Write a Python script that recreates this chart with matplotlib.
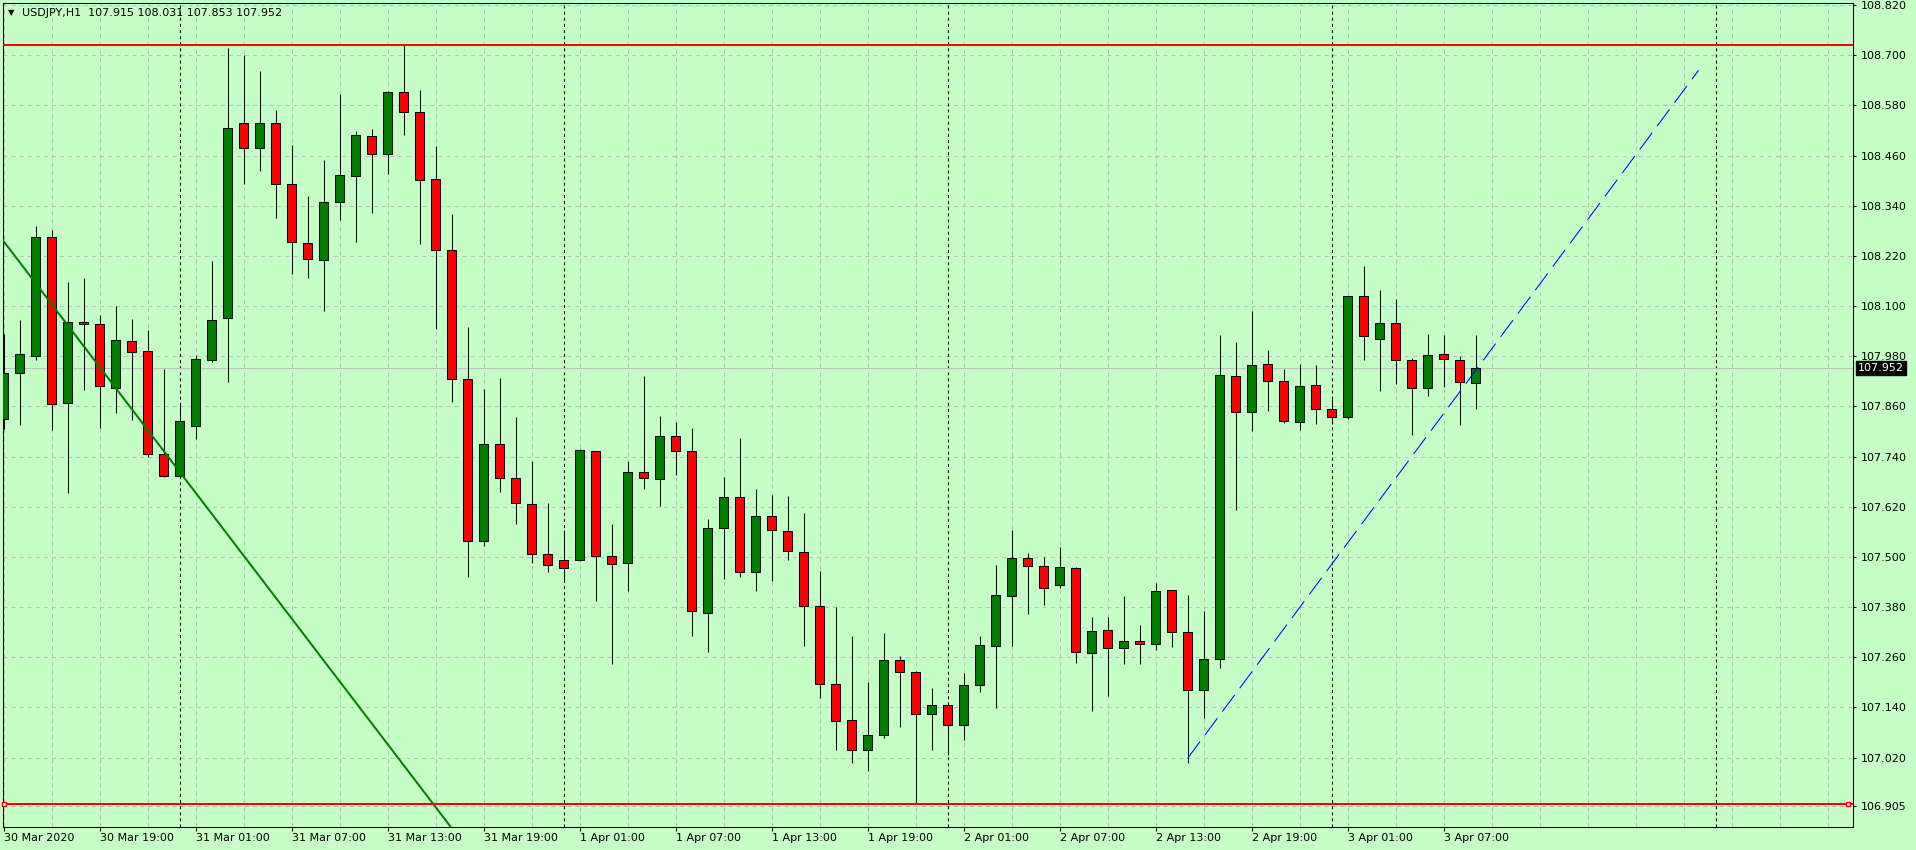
import matplotlib
matplotlib.use("Agg")
import matplotlib.pyplot as plt
from matplotlib.ticker import FixedLocator, MultipleLocator
import numpy as np
import pandas as pd

# USDJPY H1 candles, first bar 30 Mar 2020 13:00
opens = [107.831, 107.939, 107.981, 108.264, 107.867, 108.061, 108.056, 107.905, 108.016, 107.992,
         107.745, 107.694, 107.814, 107.970, 108.071, 108.537, 108.477, 108.537, 108.391, 108.250,
         108.209, 108.350, 108.410, 108.506, 108.463, 108.611, 108.563, 108.403, 108.233, 107.925,
         107.537, 107.769, 107.688, 107.626, 107.506, 107.492, 107.492, 107.753, 107.501, 107.485,
         107.702, 107.686, 107.788, 107.753, 107.367, 107.568, 107.643, 107.465, 107.599, 107.561,
         107.511, 107.382, 107.195, 107.109, 107.037, 107.073, 107.253, 107.224, 107.124, 107.145,
         107.097, 107.193, 107.286, 107.406, 107.497, 107.479, 107.434, 107.473, 107.269, 107.324,
         107.281, 107.298, 107.291, 107.420, 107.320, 107.181, 107.255, 107.932, 107.846, 107.961,
         107.920, 107.822, 107.910, 107.853, 107.834, 108.123, 108.020, 108.059, 107.970, 107.903,
         107.985, 107.970, 107.915]
highs = [108.032, 108.067, 108.291, 108.282, 108.157, 108.166, 108.079, 108.100, 108.069, 108.043,
         107.949, 107.865, 107.983, 108.208, 108.716, 108.700, 108.662, 108.569, 108.485, 108.363,
         108.449, 108.607, 108.519, 108.523, 108.614, 108.724, 108.617, 108.483, 108.320, 108.050,
         107.902, 107.927, 107.835, 107.729, 107.629, 107.564, 107.757, 107.754, 107.579, 107.729,
         107.933, 107.837, 107.823, 107.808, 107.591, 107.691, 107.784, 107.662, 107.648, 107.646,
         107.605, 107.466, 107.379, 107.311, 107.202, 107.318, 107.263, 107.226, 107.186, 107.150,
         107.222, 107.312, 107.480, 107.564, 107.509, 107.499, 107.524, 107.475, 107.356, 107.356,
         107.406, 107.337, 107.437, 107.422, 107.410, 107.371, 108.031, 108.014, 108.088, 107.995,
         107.949, 107.961, 107.958, 107.879, 108.125, 108.196, 108.138, 108.117, 107.975, 108.033,
         108.031, 107.980, 108.031]
lows = [107.807, 107.815, 107.971, 107.804, 107.652, 107.899, 107.808, 107.845, 107.827, 107.740,
        107.692, 107.688, 107.782, 107.965, 107.919, 108.392, 108.424, 108.311, 108.177, 108.168,
        108.089, 108.306, 108.252, 108.323, 108.417, 108.510, 108.249, 108.046, 107.871, 107.453,
        107.527, 107.656, 107.578, 107.486, 107.465, 107.442, 107.490, 107.395, 107.245, 107.418,
        107.663, 107.622, 107.696, 107.311, 107.273, 107.447, 107.453, 107.419, 107.443, 107.493,
        107.288, 107.163, 107.037, 107.006, 106.989, 107.068, 107.092, 106.910, 107.037, 107.027,
        107.063, 107.178, 107.138, 107.287, 107.364, 107.385, 107.426, 107.247, 107.132, 107.168,
        107.245, 107.245, 107.278, 107.285, 107.006, 107.115, 107.235, 107.611, 107.800, 107.850,
        107.821, 107.804, 107.817, 107.818, 107.831, 107.972, 107.898, 107.914, 107.792, 107.886,
        107.907, 107.816, 107.853]
closes = [107.939, 107.985, 108.264, 107.865, 108.063, 108.056, 107.908, 108.018, 107.991, 107.747,
          107.694, 107.824, 107.973, 108.066, 108.527, 108.477, 108.537, 108.393, 108.252, 108.212,
          108.350, 108.413, 108.508, 108.463, 108.611, 108.563, 108.401, 108.233, 107.925, 107.537,
          107.769, 107.688, 107.628, 107.506, 107.480, 107.474, 107.755, 107.501, 107.482, 107.702,
          107.688, 107.788, 107.753, 107.370, 107.568, 107.643, 107.465, 107.599, 107.564, 107.513,
          107.382, 107.195, 107.107, 107.037, 107.073, 107.253, 107.224, 107.124, 107.145, 107.097,
          107.193, 107.289, 107.408, 107.497, 107.479, 107.425, 107.475, 107.272, 107.322, 107.281,
          107.298, 107.291, 107.418, 107.320, 107.181, 107.257, 107.934, 107.846, 107.958, 107.920,
          107.824, 107.908, 107.853, 107.834, 108.123, 108.028, 108.059, 107.970, 107.903, 107.982,
          107.973, 107.918, 107.952]

price_ticks = [108.820, 108.700, 108.580, 108.460, 108.340, 108.220, 108.100, 107.980,
               107.860, 107.740, 107.620, 107.500, 107.380, 107.260, 107.140, 107.020, 106.905]

# drawn objects (bar index, price)
hlines_red = [108.725, 106.910]
trend_green_x = [-0.02, 12.27]
trend_green_y = [108.256, 107.640]
trend_blue_x = [74.0, 105.94]
trend_blue_y = [107.018, 108.664]
last_price = 107.952

header = "USDJPY,H1  107.915 108.031 107.853 107.952"

bg = "#c6ffc6"
grid_col = "#c4b9c4"
up_col = "#008000"
dn_col = "#ff0000"

plt.rcParams['lines.scale_dashes'] = False
plt.rcParams['font.family'] = ['DejaVu Sans']

W, H = 1916, 850
fig = plt.figure(figsize=(W / 100, H / 100), dpi=100, facecolor=bg)
ax = fig.add_axes([2.5 / W, 23.5 / H, 1850 / W, 824 / H], facecolor=bg)

n = len(opens)
x = np.arange(n)
o = np.array(opens); c = np.array(closes)
colors = [up_col if cc >= oo else dn_col for oo, cc in zip(o, c)]

# time axis
times = pd.date_range("2020-03-30 13:00", periods=116, freq="h")
midnights = [i for i, t in enumerate(times) if t.hour == 0]
label_idx = list(range(0, n, 6))
labels = []
for i in label_idx:
    t = times[i]
    if i == 0:
        labels.append(f"{t.day} {t:%b %Y}")
    else:
        labels.append(f"{t.day} {t:%b %H:%M}")

# grid + separators
ax.set_axisbelow(True)
for p in price_ticks:
    ax.axhline(p, color=grid_col, lw=0.75, ls=(0, (2.9, 2.9)), zorder=0.5)
for i in range(0, 116, 3):
    ax.axvline(i, color=grid_col, lw=0.75, ls=(0, (2.9, 2.9)), zorder=0.5)
for i in midnights:
    ax.axvline(i, color="black", lw=0.75, ls=(0, (2.2, 2.2)), zorder=0.8)

# last price line
ax.axhline(last_price, color="#c0c0c0", lw=0.75, zorder=1)

# candles
ax.vlines(x, lows, highs, color="black", lw=0.75, zorder=2)
ax.bar(x, np.abs(c - o), bottom=np.minimum(o, c), width=0.58, color=colors,
       edgecolor="black", linewidth=0.75, zorder=3)

# objects
ax.axline((trend_green_x[0], trend_green_y[0]), (trend_green_x[1], trend_green_y[1]),
          color=up_col, lw=1.45, zorder=4)
ax.plot(trend_blue_x, trend_blue_y, color="#0000ff", lw=0.75, ls=(0, (15, 6)), zorder=4)
ax.axhline(hlines_red[0], color="#ff0000", lw=1.45, zorder=4)
ax.axhline(hlines_red[1], color="#ff0000", lw=1.45, zorder=4)
ax.plot([0.0, 115.3], [hlines_red[1]] * 2, ls="none", marker="s", ms=3.2,
        mfc="white", mec="#ff0000", mew=1, zorder=5, clip_on=False)

ax.set_xlim(-0.07, 115.56)
ax.set_ylim(106.8552, 108.826)

ax.yaxis.tick_right()
ax.yaxis.set_major_locator(FixedLocator(price_ticks))
ax.set_yticklabels([f"{p:.3f}" for p in price_ticks])
ax.tick_params(axis="y", length=2.5, width=0.75, pad=3.5, labelsize=8, colors="black")

ax.xaxis.set_major_locator(FixedLocator(label_idx))
ax.set_xticklabels(labels)
for lab in ax.get_xticklabels():
    lab.set_horizontalalignment("left")
ax.tick_params(axis="x", length=3, width=0.75, pad=1.5, labelsize=8, colors="black")

for s in ax.spines.values():
    s.set_color("black")
    s.set_linewidth(0.75)

# current price box on the price scale
ax.text(1.0, last_price, f"{last_price:.3f}", transform=ax.get_yaxis_transform(),
        ha="left", va="center", fontsize=8, color="white",
        bbox=dict(boxstyle="square,pad=0.2", fc="black", ec="black"),
        zorder=10, clip_on=False,
        )
# shift box to sit where the labels start
ax.texts[-1].set_x(1.0 + 5.5 / 1850)

# header
fig.text(11 / W, 1 - 13 / H, "\u25bc", fontsize=6, ha="center", va="center")
fig.text(21.5 / W, 1 - 13 / H, header, fontsize=8, ha="left", va="center")

fig.savefig("out.png", dpi=100, facecolor=bg)
